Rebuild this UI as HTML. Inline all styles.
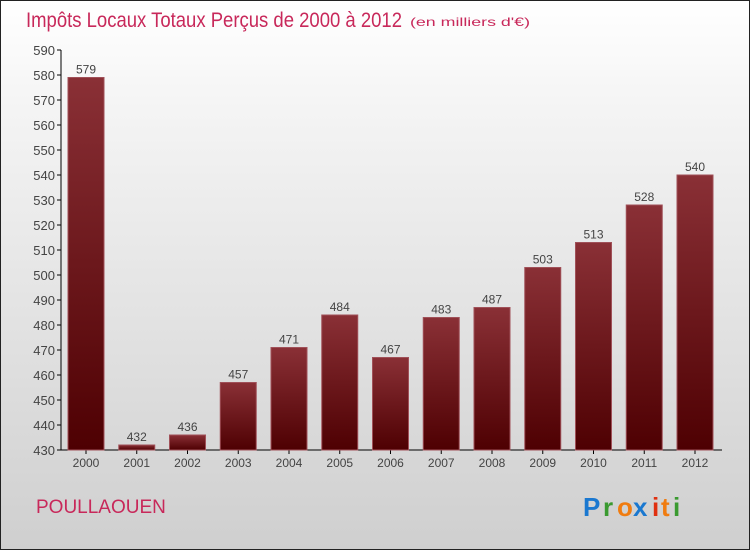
<!DOCTYPE html>
<html><head><meta charset="utf-8"><style>
body{margin:0}
#c{width:750px;height:550px;position:relative;box-sizing:border-box;border:1px solid #222;background:linear-gradient(#fff,#f4f4f4 20%,#cfcfcf);font-family:"Liberation Sans",sans-serif;overflow:hidden}
</style></head><body>
<div id="c">
<svg width="750" height="550" id="s" style="position:absolute;left:-1px;top:-1px">
<defs><linearGradient id="g" x1="0" y1="0" x2="0" y2="1"><stop offset="0" stop-color="#8a3036"/><stop offset="1" stop-color="#4e0002"/></linearGradient></defs>
<text x="26" y="27" font-size="21" fill="#c8285a" textLength="376" lengthAdjust="spacingAndGlyphs">Impôts Locaux Totaux Perçus de 2000 à 2012</text>
<text x="410" y="26" font-size="12" fill="#c8285a" textLength="120" lengthAdjust="spacingAndGlyphs">(en milliers d'€)</text>
<text x="36" y="513" font-size="19" fill="#c8285a">POULLAOUEN</text>
<g font-size="26" font-weight="bold" font-family="'Liberation Sans',sans-serif">
<text x="583" y="516" fill="#1a78d0">P</text><text x="603" y="516" fill="#3a9a30">r</text><text x="617" y="516" fill="#f07c10">o</text><text x="633" y="516" fill="#1a78d0">x</text><text x="652" y="516" fill="#e03010">i</text><text x="661" y="516" fill="#f07c10">t</text><text x="673" y="516" fill="#3a9a30">i</text>
</g>
<g id="ax"></g><g id="bars"></g>
</svg>
</div>
<script>
const years=["2000","2001","2002","2003","2004","2005","2006","2007","2008","2009","2010","2011","2012"];
const values=[579,432,436,457,471,484,467,483,487,503,513,528,540];
const ticks=[430,440,450,460,470,480,490,500,510,520,530,540,550,560,570,580,590];
const ns="http://www.w3.org/2000/svg";
const y0=450,y1=50,vmin=430,vmax=590;
const Y=v=>y0-(v-vmin)/(vmax-vmin)*(y0-y1);
const X=i=>86+i*50.75;
function el(t,a,p){const e=document.createElementNS(ns,t);for(const k in a)e.setAttribute(k,a[k]);p.appendChild(e);return e;}
const ax=document.getElementById('ax'),bars=document.getElementById('bars');
const yl=el('line',{x1:61,y1:Y(vmax),x2:61,y2:y0,stroke:'#000'},ax);


const xl=el('line',{x1:61,y1:y0,x2:722,y2:y0,stroke:'#000'},ax);


ticks.forEach(t=>{
 el('line',{x1:57,x2:61,y1:Y(t),y2:Y(t),stroke:'#000'},ax);
 const tx=el('text',{x:55,y:Y(t)+5,'font-size':13,fill:'#444','text-anchor':'end'},ax);tx.textContent=t;
 
 
});
years.forEach((yr,i)=>{
 const x=X(i),v=values[i];
 const r=el('rect',{x:x-18,y:Y(v),width:36,height:y0-Y(v),fill:'url(#g)',stroke:'#a05058','stroke-width':1},bars);
 
 
 el('line',{x1:x,x2:x,y1:y0,y2:y0+4,stroke:'#000'},ax);
 const l=el('text',{x:x,y:y0+17,'font-size':12,fill:'#444','text-anchor':'middle'},ax);l.textContent=yr;
 
 
 const vl=el('text',{x:x,y:Y(v)-4,'font-size':12,fill:'#444','text-anchor':'middle'},bars);vl.textContent=v;
 
 
});
</script>
</body></html>
